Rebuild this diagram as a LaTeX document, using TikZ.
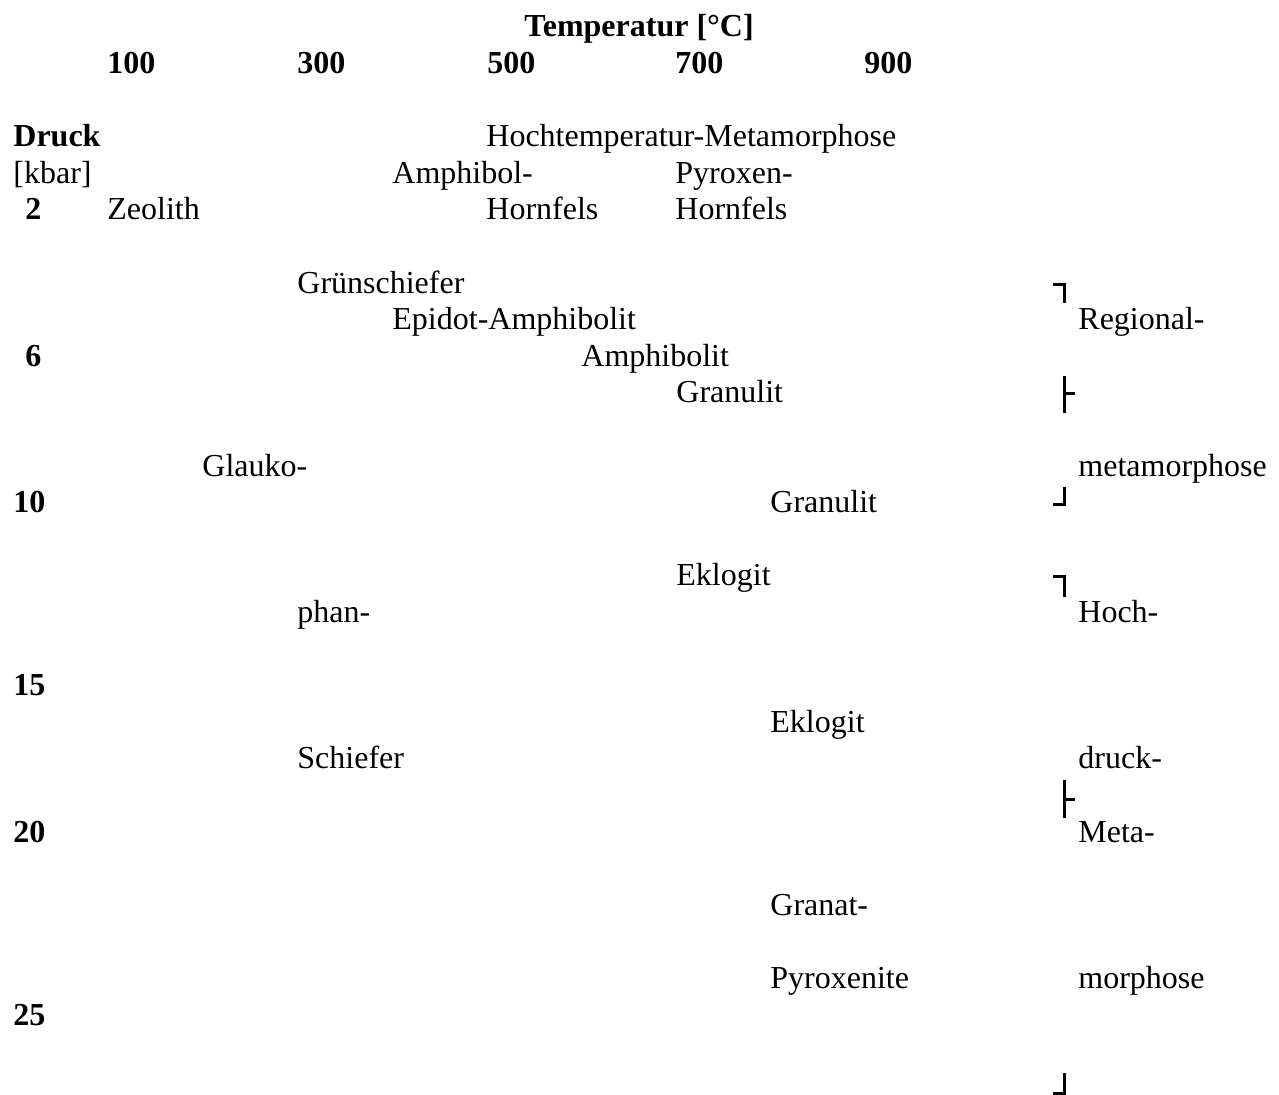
\documentclass[tikz,border=0pt]{standalone}
\usepackage{fontspec}
\setmainfont{Liberation Serif}
\begin{document}
\begin{tikzpicture}[x=0.5pt,y=-0.5pt,
  lbl/.style={anchor=base west,inner sep=0pt,font=\fontsize{16}{19}\selectfont},
  bld/.style={lbl,font=\fontsize{16}{19}\selectfont\bfseries},
  brk/.style={line width=1.5pt,line cap=butt}]
\useasboundingbox (0,0) rectangle (1279,1095);
% header
\node[bld] (temp) at (524,37) {Temperatur [\textdegree C]};
\node[bld] (t100) at (107,73.6) {100};
\node[bld] (t300) at (297,73.6) {300};
\node[bld] (t500) at (487,73.6) {500};
\node[bld] (t700) at (675,73.6) {700};
\node[bld] (t900) at (864,73.6) {900};
% left axis
\node[bld] (druck) at (13,146.8) {Druck};
\node[lbl] (kbar) at (13,183.4) {[kbar]};
\node[bld] (p2) at (25,220) {2};
\node[bld] (p6) at (25,366.4) {6};
\node[bld] (p10) at (13,512.8) {10};
\node[bld] (p15) at (13,695.8) {15};
\node[bld] (p20) at (13,842.2) {20};
\node[bld] (p25) at (13,1025.2) {25};
% facies
\node[lbl] (htm) at (486,146.8) {Hochtemperatur-Metamorphose};
\node[lbl] (amphA) at (392,183.4) {Amphibol-};
\node[lbl] (pyrA) at (675,183.4) {Pyroxen-};
\node[lbl] (zeo) at (107,220) {Zeolith};
\node[lbl] (hornA) at (486,220) {Hornfels};
\node[lbl] (hornB) at (675,220) {Hornfels};
\node[lbl] (gruen) at (297,293.2) {Grünschiefer};
\node[lbl] (epi) at (392,329.8) {Epidot-Amphibolit};
\node[lbl] (amph) at (581,366.4) {Amphibolit};
\node[lbl] (granA) at (676,403) {Granulit};
\node[lbl] (glauk) at (202,476.2) {Glauko-};
\node[lbl] (granB) at (770,512.8) {Granulit};
\node[lbl] (eklA) at (676,586) {Eklogit};
\node[lbl] (phan) at (297,622.6) {phan-};
\node[lbl] (eklB) at (770,732.4) {Eklogit};
\node[lbl] (schief) at (297,769) {Schiefer};
\node[lbl] (granat) at (770,915.4) {Granat-};
\node[lbl] (pyrox) at (770,988.6) {Pyroxenite};
% right column
\node[lbl] (reg) at (1078,329.8) {Regional-};
\node[lbl] (meta1) at (1078,476.2) {metamorphose};
\node[lbl] (hoch) at (1078,622.6) {Hoch-};
\node[lbl] (druckr) at (1078,769) {druck-};
\node[lbl] (meta2) at (1078,842.2) {Meta-};
\node[lbl] (morph) at (1078,988.6) {morphose};
% brackets
\draw[brk] (1053,285) -- (1064,285) -- (1064,303);
\draw[brk] (1064,376) -- (1064,413) (1064,394) -- (1075,394);
\draw[brk] (1064,487) -- (1064,505) -- (1053,505);
\draw[brk] (1053,577) -- (1064,577) -- (1064,597);
\draw[brk] (1064,780) -- (1064,818) (1064,799) -- (1075,799);
\draw[brk] (1064,1073) -- (1064,1093) -- (1053,1093);
\end{tikzpicture}
\end{document}
